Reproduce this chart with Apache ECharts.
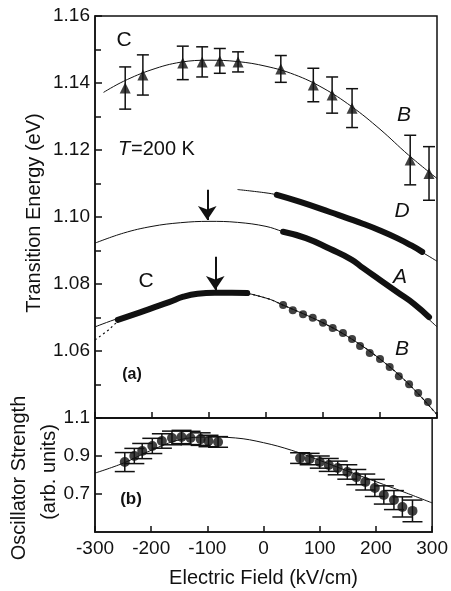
<!DOCTYPE html>
<html><head><meta charset="utf-8">
<script src="https://cdn.jsdelivr.net/npm/echarts@6/dist/echarts.min.js"></script>
<style>html,body{margin:0;padding:0;background:#fff}#c{width:451px;height:591px}</style>
</head><body><div id="c"></div>
<script>
// ---- Panel (a): triangles (upper C/B transitions) ----
const triField = [-247, -216, -146, -112, -81, -49, 26, 83, 116, 151, 253, 286];
const triEnergy = [1.1385, 1.1424, 1.1460, 1.1463, 1.1466, 1.1463, 1.1442, 1.1394, 1.1364, 1.1325, 1.1170, 1.1130];
const triErr = [0.0063, 0.0060, 0.0050, 0.0045, 0.0037, 0.0030, 0.0040, 0.0050, 0.0054, 0.0058, 0.0074, 0.0080];
const triFitField = [-285, -250, -200, -150, -100, -50, 0, 50, 100, 150, 200, 250, 300];
const triFitEnergy = [1.1372, 1.1405, 1.1440, 1.1462, 1.1468, 1.1464, 1.1450, 1.1425, 1.1385, 1.1330, 1.1262, 1.1185, 1.1115];

// D line
const dFitField = [-50, 0, 19, 50, 100, 150, 200, 250, 300];
const dFitEnergy = [1.1082, 1.1072, 1.1066, 1.1050, 1.1022, 1.0992, 1.0960, 1.0918, 1.0868];
const dBandField = [19, 60, 112, 140, 170, 200, 230, 255, 274];
const dBandEnergy = [1.1066, 1.1045, 1.1015, 1.0998, 1.0980, 1.0960, 1.0937, 1.0915, 1.0896];

// A line
const aFitField = [-300, -250, -200, -150, -100, -50, 0, 30, 100, 150, 200, 250, 300];
const aFitEnergy = [1.0922, 1.0952, 1.0972, 1.0983, 1.0987, 1.0984, 1.0972, 1.0956, 1.0918, 1.0873, 1.0812, 1.0748, 1.0672];
const aBandField = [30, 70, 112, 150, 170, 200, 230, 260, 286];
const aBandEnergy = [1.0956, 1.0937, 1.0905, 1.0873, 1.0848, 1.0812, 1.0776, 1.0740, 1.0701];

// Lower C (band) and B (dots)
const cBandField = [-260, -230, -200, -170, -145, -120, -90, -60, -33];
const cBandEnergy = [1.0693, 1.0710, 1.0728, 1.0746, 1.0762, 1.0771, 1.0774, 1.0774, 1.0773];
const bDotField = [30, 47, 65, 82, 100, 117, 135, 151, 165, 182, 200, 217, 233, 251, 267, 284];
const bDotEnergy = [1.0737, 1.0722, 1.0710, 1.0699, 1.0684, 1.0669, 1.0654, 1.0636, 1.0615, 1.0594, 1.0576, 1.0552, 1.0525, 1.0501, 1.0475, 1.0448];
const lowFitField = [-300, -260, -200, -150, -100, -50, 0, 30, 100, 150, 200, 250, 300];
const lowFitEnergy = [1.0672, 1.0697, 1.0729, 1.0762, 1.0774, 1.0774, 1.0758, 1.0737, 1.0684, 1.0636, 1.0576, 1.0502, 1.0410];
const lowDotFitField = [-300, -280, -255, -200, -150, -100, -50, 0, 30, 100, 150, 200, 250, 300];
const lowDotFitEnergy = [1.0633, 1.0658, 1.0692, 1.0729, 1.0762, 1.0774, 1.0774, 1.0758, 1.0737, 1.0684, 1.0636, 1.0576, 1.0502, 1.0410];

// Arrows (field, from energy, to energy)
const arrowField = [-103, -89];
const arrowFrom = [1.1081, 1.0881];
const arrowTo = [1.0991, 1.0782];

// ---- Panel (b): oscillator strength ----
const oscField = [-247, -230, -216, -198, -181, -163, -146, -130, -112, -98, -81,
                  65, 82, 100, 116, 132, 149, 165, 181, 198, 214, 232, 247, 265];
const oscValue = [0.868, 0.900, 0.926, 0.953, 0.979, 0.995, 1.000, 0.995, 0.989, 0.979, 0.974,
                  0.889, 0.884, 0.868, 0.853, 0.837, 0.816, 0.789, 0.763, 0.732, 0.695, 0.668, 0.632, 0.611];
const oscErr = [0.050, 0.040, 0.040, 0.040, 0.038, 0.036, 0.035, 0.035, 0.033, 0.030, 0.028,
                0.028, 0.030, 0.032, 0.034, 0.036, 0.038, 0.040, 0.042, 0.045, 0.048, 0.050, 0.053, 0.057];
const oscFitField = [-300, -250, -200, -150, -100, -50, 0, 50, 100, 150, 200, 250, 300];
const oscFitValue = [0.810, 0.862, 0.930, 0.985, 1.000, 0.995, 0.970, 0.930, 0.877, 0.820, 0.765, 0.710, 0.653];

const FONT = 'Liberation Sans, Arial, Helvetica, sans-serif';
const INK = '#111';
const zip = (a, b) => a.map((v, i) => [v, b[i]]);
const zip3 = (a, b, c) => a.map((v, i) => [v, b[i], c[i]]);

function errBar(capHalf) {
  return function (params, api) {
    const x = api.value(0), y = api.value(1), e = api.value(2);
    const t = api.coord([x, y + e]), b = api.coord([x, y - e]);
    const st = { stroke: INK, lineWidth: 1.5 };
    return { type: 'group', children: [
      { type: 'line', shape: { x1: t[0], y1: t[1], x2: b[0], y2: b[1] }, style: st },
      { type: 'line', shape: { x1: t[0] - capHalf, y1: t[1], x2: t[0] + capHalf, y2: t[1] }, style: st },
      { type: 'line', shape: { x1: b[0] - capHalf, y1: b[1], x2: b[0] + capHalf, y2: b[1] }, style: st }
    ]};
  };
}

function fitLine(name, x, y, xi, extra) {
  return Object.assign({
    name, type: 'line', xAxisIndex: xi, yAxisIndex: xi, data: zip(x, y), smooth: 0.4,
    showSymbol: false, symbol: 'none', lineStyle: { color: INK, width: 1 }, z: 2, silent: true
  }, extra || {});
}
function band(name, x, y) {
  return { name, type: 'line', xAxisIndex: 0, yAxisIndex: 0, data: zip(x, y), smooth: 0.5,
    symbol: 'none', lineStyle: { color: INK, width: 6, cap: 'round' }, z: 3, silent: true };
}

const chart = echarts.init(document.getElementById('c'), null, { renderer: 'canvas' });
const axisLine = { show: true, onZero: false, lineStyle: { color: INK, width: 1.5 } };
chart.setOption({
  backgroundColor: '#fff',
  animation: false,
  textStyle: { fontFamily: FONT, color: INK },
  grid: [
    { left: 95, top: 16, width: 342, height: 402, show: true, borderColor: INK, borderWidth: 1.5, backgroundColor: 'transparent' },
    { left: 95, top: 418, width: 342, height: 114, show: true, borderColor: INK, borderWidth: 1.5, backgroundColor: 'transparent' }
  ],
  xAxis: [
    { gridIndex: 0, type: 'value', min: -300, max: 300, interval: 100,
      axisLine, axisTick: { inside: true, length: 6, lineStyle: { color: INK, width: 1.5 } },
      axisLabel: { show: false }, splitLine: { show: false } },
    { gridIndex: 1, type: 'value', min: -300, max: 300, interval: 100,
      axisLine, axisTick: { inside: true, length: 6, lineStyle: { color: INK, width: 1.5 } },
      axisLabel: { fontSize: 19, color: INK, fontFamily: FONT, margin: 7 },
      splitLine: { show: false },
      name: 'Electric Field (kV/cm)', nameLocation: 'middle', nameGap: 36,
      nameTextStyle: { fontSize: 20, color: INK, fontFamily: FONT } }
  ],
  yAxis: [
    { gridIndex: 0, type: 'value', min: 1.04, max: 1.16, interval: 0.02,
      axisLine, axisTick: { inside: true, length: 7, lineStyle: { color: INK, width: 1.5 } },
      minorTick: { show: true, splitNumber: 2, length: 6, lineStyle: { color: INK, width: 1.5 } },
      axisLabel: { fontSize: 19, color: INK, fontFamily: FONT, margin: 5, showMinLabel: false,
        formatter: v => v.toFixed(2) },
      splitLine: { show: false } },
    { gridIndex: 1, type: 'value', min: 0.5, max: 1.1, interval: 0.2,
      axisLine, axisTick: { inside: true, length: 7, lineStyle: { color: INK, width: 1.5 } },
      axisLabel: { fontSize: 19, color: INK, fontFamily: FONT, margin: 5, showMinLabel: false,
        formatter: v => v.toFixed(1) },
      splitLine: { show: false } }
  ],
  graphic: [
    { type: 'text', x: 34, y: 213, rotation: Math.PI / 2,
      style: { text: 'Transition Energy (eV)', font: '20px ' + FONT, fill: INK, textAlign: 'center', textVerticalAlign: 'middle' } },
    { type: 'text', x: 19, y: 478, rotation: Math.PI / 2,
      style: { text: 'Oscillator Strength', font: '20px ' + FONT, fill: INK, textAlign: 'center', textVerticalAlign: 'middle' } },
    { type: 'text', x: 49, y: 472, rotation: Math.PI / 2,
      style: { text: '(arb. units)', font: '20px ' + FONT, fill: INK, textAlign: 'center', textVerticalAlign: 'middle' } },
    { type: 'text', x: 124, y: 40, style: { text: 'C', font: '21px ' + FONT, fill: INK, textAlign: 'center', textVerticalAlign: 'middle' } },
    { type: 'text', x: 146, y: 281, style: { text: 'C', font: '21px ' + FONT, fill: INK, textAlign: 'center', textVerticalAlign: 'middle' } },
    { type: 'text', x: 404, y: 115, style: { text: 'B', font: 'italic 21px ' + FONT, fill: INK, textAlign: 'center', textVerticalAlign: 'middle' } },
    { type: 'text', x: 402, y: 211, style: { text: 'D', font: 'italic 21px ' + FONT, fill: INK, textAlign: 'center', textVerticalAlign: 'middle' } },
    { type: 'text', x: 400, y: 277, style: { text: 'A', font: 'italic 21px ' + FONT, fill: INK, textAlign: 'center', textVerticalAlign: 'middle' } },
    { type: 'text', x: 402, y: 349, style: { text: 'B', font: 'italic 21px ' + FONT, fill: INK, textAlign: 'center', textVerticalAlign: 'middle' } },
    { type: 'text', x: 118, y: 149, style: { text: 'T', font: 'italic 20px ' + FONT, fill: INK, textAlign: 'left', textVerticalAlign: 'middle' } },
    { type: 'text', x: 131, y: 149, style: { text: '=200 K', font: '20px ' + FONT, fill: INK, textAlign: 'left', textVerticalAlign: 'middle' } },
    { type: 'text', x: 132, y: 375, style: { text: '(a)', font: 'bold 16px ' + FONT, fill: INK, textAlign: 'center', textVerticalAlign: 'middle' } },
    { type: 'text', x: 131, y: 499, style: { text: '(b)', font: 'bold 17px ' + FONT, fill: INK, textAlign: 'center', textVerticalAlign: 'middle' } }
  ],
  series: [
    fitLine('C/B fit', triFitField, triFitEnergy, 0),
    fitLine('D fit', dFitField, dFitEnergy, 0),
    fitLine('A fit', aFitField, aFitEnergy, 0),
    fitLine('low fit', lowFitField, lowFitEnergy, 0),
    fitLine('low fit dotted', lowDotFitField, lowDotFitEnergy, 0, { lineStyle: { color: INK, width: 1.2, type: [2, 3] } }),
    band('D', dBandField, dBandEnergy),
    band('A', aBandField, aBandEnergy),
    band('C', cBandField, cBandEnergy),
    { name: 'tri err', type: 'custom', xAxisIndex: 0, yAxisIndex: 0, renderItem: errBar(6),
      data: zip3(triField, triEnergy, triErr), z: 4, silent: true },
    { name: 'triangles', type: 'scatter', xAxisIndex: 0, yAxisIndex: 0, symbol: 'triangle', symbolSize: 11,
      itemStyle: { color: INK }, data: zip(triField, triEnergy), z: 5, silent: true },
    { name: 'B dots', type: 'scatter', xAxisIndex: 0, yAxisIndex: 0, symbol: 'circle', symbolSize: 8,
      itemStyle: { color: INK }, data: zip(bDotField, bDotEnergy), z: 5, silent: true },
    { name: 'arrows', type: 'line', xAxisIndex: 0, yAxisIndex: 0, data: [], symbol: 'none', silent: true,
      markLine: { silent: true, symbol: ['none', 'arrow'], symbolSize: [14, 14],
        lineStyle: { color: INK, width: 2, type: 'solid' }, label: { show: false },
        data: arrowField.map((f, i) => [{ coord: [f, arrowFrom[i]] }, { coord: [f, arrowTo[i]] }]) } },
    fitLine('osc fit', oscFitField, oscFitValue, 1),
    { name: 'osc err', type: 'custom', xAxisIndex: 1, yAxisIndex: 1, renderItem: errBar(10),
      data: zip3(oscField, oscValue, oscErr), z: 4, silent: true },
    { name: 'osc', type: 'scatter', xAxisIndex: 1, yAxisIndex: 1, symbol: 'circle', symbolSize: 10,
      itemStyle: { color: INK }, data: zip(oscField, oscValue), z: 5, silent: true }
  ]
});
</script></body></html>
